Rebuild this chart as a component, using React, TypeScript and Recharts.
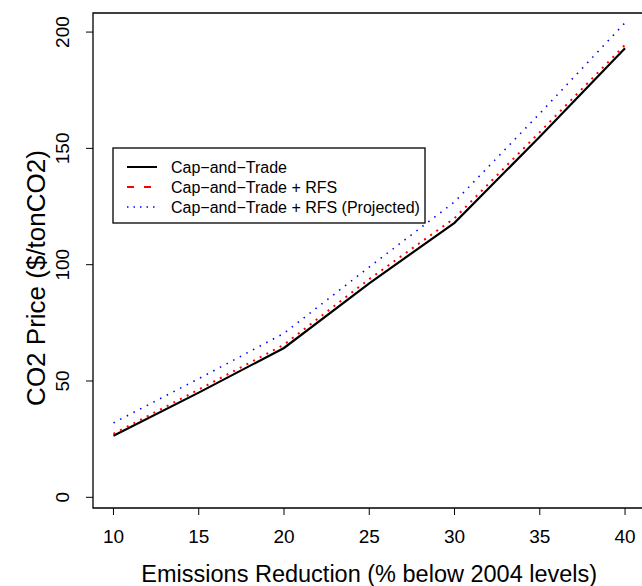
import { LineChart, Line, XAxis, YAxis, ReferenceArea } from "recharts";

// emission reduction (% below 2004 levels)
const reductions = [10, 15, 20, 25, 30, 35, 40];
// CO2 price ($/tonCO2) per scenario
const capTrade = [26.5, 45, 64.2, 92, 118, 155, 193];
const capTradeRfs = [27.3, 46.3, 65.6, 93.8, 120, 157, 194.5];
const capTradeRfsProj = [32, 51, 70.5, 99, 127, 165, 204];

const xTicks = [10, 15, 20, 25, 30, 35, 40];
const yTicks = [0, 50, 100, 150, 200];

const X_DOMAIN: [number, number] = [8.8, 41.2];
const Y_DOMAIN: [number, number] = [-4.6, 208.2];

const FONT = "'Liberation Sans', Arial, Helvetica, sans-serif";

const data = reductions.map((r, i) => ({
  x: r,
  ct: capTrade[i],
  rfs: capTradeRfs[i],
  proj: capTradeRfsProj[i],
}));

const legendItems = [
  { label: "Cap\u2212and\u2212Trade", color: "#000", dash: undefined, width: 2 },
  { label: "Cap\u2212and\u2212Trade + RFS", color: "#ff0000", dash: "7 10", width: 2 },
  { label: "Cap\u2212and\u2212Trade + RFS (Projected)", color: "#0000ff", dash: "1.5 5", width: 1.5 },
];

function XTick({ x, y, payload }: any) {
  return (
    <text x={x} y={y + 28} textAnchor="middle" fontSize={19} fill="#000" fontFamily={FONT}>
      {payload.value}
    </text>
  );
}

function YTick({ x, y, payload }: any) {
  const bx = x - 17;
  return (
    <text
      x={bx}
      y={y}
      textAnchor="middle"
      fontSize={19}
      fill="#000"
      fontFamily={FONT}
      transform={`rotate(-90, ${bx}, ${y})`}
    >
      {payload.value}
    </text>
  );
}

// y axis title, drawn at a fixed spot like R's mtext
function YTitle() {
  const x = 45;
  const y = 278;
  return (
    <text
      x={x}
      y={y}
      textAnchor="middle"
      fontSize={26}
      fill="#000"
      fontFamily={FONT}
      transform={`rotate(-90, ${x}, ${y})`}
    >
      CO2 Price ($/tonCO2)
    </text>
  );
}

export default function App() {
  return (
    <div
      style={{
        position: "absolute",
        left: 0,
        top: 0,
        width: 642,
        height: 586,
        overflow: "hidden",
        background: "#fff",
        fontFamily: FONT,
      }}
    >
      <LineChart
        width={660}
        height={586}
        data={data}
        margin={{ top: 13, right: 14.5, bottom: 0, left: 0 }}
      >
        <XAxis
          dataKey="x"
          type="number"
          domain={X_DOMAIN}
          ticks={xTicks}
          allowDataOverflow
          axisLine={false}
          tickLine={{ stroke: "#000" }}
          tickSize={7}
          tickMargin={0}
          tick={<XTick />}
          height={78}
          label={{
            value: "Emissions Reduction (% below 2004 levels)",
            position: "insideBottom",
            offset: 0,
            dy: -4,
            fontSize: 23.5,
            fill: "#000",
            fontFamily: FONT,
          }}
        />
        <YAxis
          type="number"
          domain={Y_DOMAIN}
          ticks={yTicks}
          allowDataOverflow
          axisLine={false}
          tickLine={{ stroke: "#000" }}
          tickSize={7}
          tickMargin={0}
          tick={<YTick />}
          width={93}
          label={{ content: () => <YTitle /> }}
        />
        <ReferenceArea
          x1={X_DOMAIN[0]}
          x2={X_DOMAIN[1]}
          y1={Y_DOMAIN[0]}
          y2={Y_DOMAIN[1]}
          fill="none"
          stroke="#000"
          strokeWidth={1.3}
          ifOverflow="visible"
        />
        <Line
          dataKey="ct"
          stroke="#000"
          strokeWidth={2.2}
          dot={false}
          isAnimationActive={false}
        />
        <Line
          dataKey="rfs"
          stroke="#ff0000"
          strokeWidth={2}
          strokeDasharray="2 5.5"
          dot={false}
          isAnimationActive={false}
        />
        <Line
          dataKey="proj"
          stroke="#0000ff"
          strokeWidth={1.6}
          strokeDasharray="1.5 6"
          dot={false}
          isAnimationActive={false}
        />
      </LineChart>

      <svg
        width={314}
        height={77}
        style={{ position: "absolute", left: 112, top: 147 }}
      >
        <rect x={1} y={1} width={312} height={75} fill="#fff" stroke="#000" strokeWidth={1.3} />
        {legendItems.map((it, i) => (
          <g key={it.label}>
            <line
              x1={15}
              x2={45}
              y1={20 + i * 20}
              y2={20 + i * 20}
              stroke={it.color}
              strokeWidth={it.width}
              strokeDasharray={it.dash}
            />
            <text x={59} y={26 + i * 20} fontSize={16} fill="#000" fontFamily={FONT}>
              {it.label}
            </text>
          </g>
        ))}
      </svg>
    </div>
  );
}
